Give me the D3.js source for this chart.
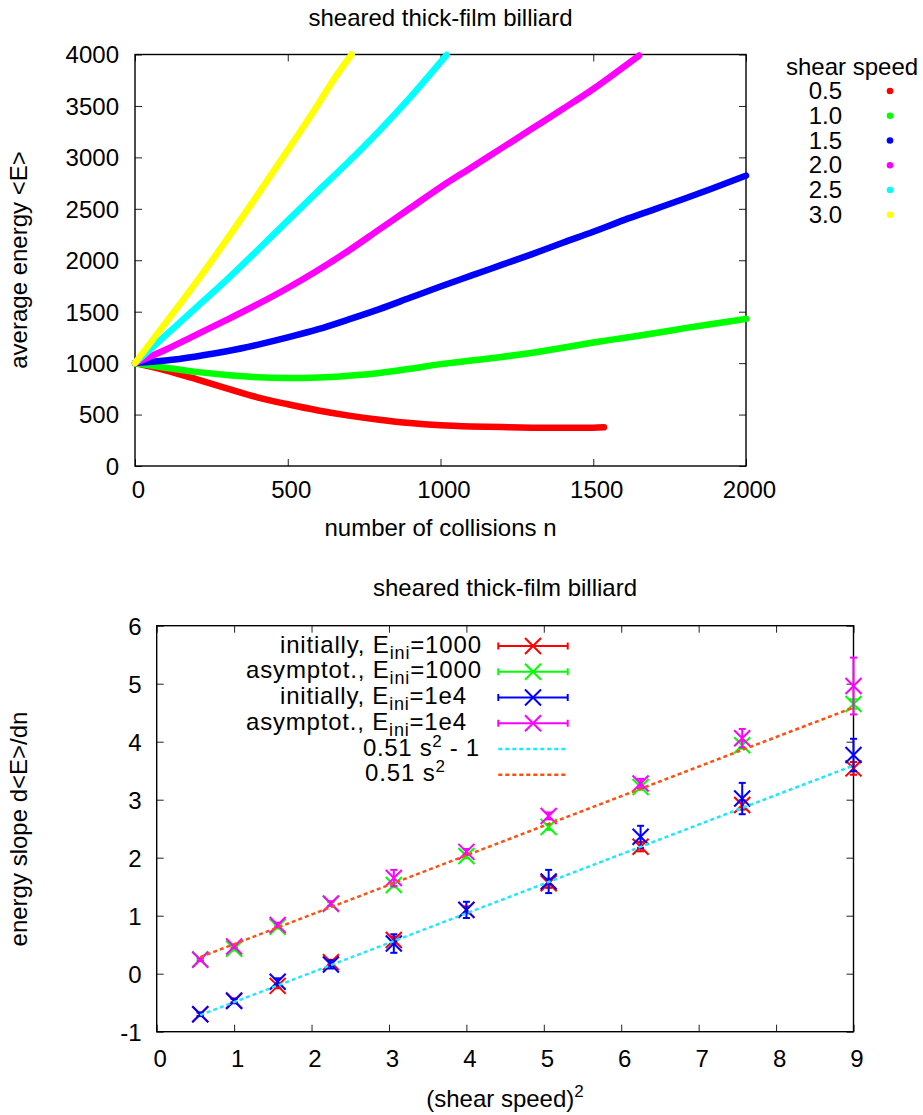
<!DOCTYPE html>
<html>
<head>
<meta charset="utf-8">
<script src="https://cdn.jsdelivr.net/npm/d3@7"></script>
<style>
  body { margin: 0; background: #fff; }
  svg { display: block; }
  text { font-family: "Liberation Sans", Arial, Helvetica, sans-serif; fill: #000; }
</style>
</head>
<body>
<svg id="chart" width="923" height="1115"></svg>
<script>
// ---------- top panel: average energy <E> versus number of collisions n ----------
const shearSpeedLabels = ["0.5", "1.0", "1.5", "2.0", "2.5", "3.0"];

// [n, <E>] samples for each shear speed
const energyS05 = [[0,1000],[100,930],[200,845],[300,755],[400,668],[500,600],[600,540],[700,490],[800,450],[900,418],[1000,397],[1100,385],[1200,378],[1300,373],[1400,371],[1500,373],[1535,376]];
const energyS10 = [[0,1000],[100,955],[200,915],[300,885],[400,863],[500,855],[600,860],[700,878],[800,905],[900,945],[1000,990],[1100,1025],[1200,1060],[1300,1100],[1400,1150],[1500,1200],[1600,1245],[1700,1290],[1800,1340],[1900,1385],[2000,1430]];
const energyS15 = [[0,1000],[100,1025],[200,1065],[300,1115],[400,1178],[500,1250],[600,1330],[700,1425],[800,1525],[900,1635],[1000,1745],[1100,1850],[1200,1955],[1300,2060],[1400,2170],[1500,2277],[1600,2390],[1700,2495],[1800,2600],[1900,2710],[2000,2822]];
const energyS20 = [[0,1000],[100,1130],[200,1275],[300,1420],[400,1570],[500,1730],[600,1905],[700,2095],[800,2300],[900,2505],[1000,2710],[1100,2900],[1200,3090],[1300,3280],[1400,3470],[1500,3665],[1600,3880],[1650,3990]];
const energyS25 = [[0,1000],[100,1270],[200,1540],[300,1810],[400,2095],[500,2385],[600,2675],[700,2960],[800,3260],[900,3580],[1000,3925],[1020,3995]];
const energyS30 = [[0,1000],[100,1390],[200,1785],[300,2200],[400,2630],[500,3070],[600,3520],[650,3755],[709,4000]];

const xTicksTop = [0, 500, 1000, 1500, 2000];
const yTicksTop = [0, 500, 1000, 1500, 2000, 2500, 3000, 3500, 4000];

// ---------- bottom panel: energy slope versus (shear speed)^2 ----------
const shearSpeeds = [0.75, 1.0, 1.25, 1.5, 1.75, 2.0, 2.25, 2.5, 2.75, 3.0];
const slopeInitE1000 = [-0.70, -0.46, -0.21, 0.20, 0.58, 1.10, 1.56, 2.19, 2.91, 3.54];
const errInitE1000   = [0.03, 0.03, 0.04, 0.04, 0.06, 0.06, 0.08, 0.08, 0.08, 0.11];
const slopeAsymE1000 = [0.25, 0.43, 0.81, 1.20, 1.53, 2.03, 2.53, 3.22, 3.94, 4.65];
const errAsymE1000   = [0.02, 0.03, 0.03, 0.03, 0.04, 0.04, 0.05, 0.05, 0.06, 0.08];
const slopeInitE1e4  = [-0.70, -0.47, -0.14, 0.16, 0.52, 1.10, 1.59, 2.36, 3.02, 3.77];
const errInitE1e4    = [0.03, 0.04, 0.06, 0.07, 0.16, 0.14, 0.20, 0.19, 0.27, 0.28];
const slopeAsymE1e4  = [0.24, 0.47, 0.84, 1.21, 1.65, 2.10, 2.72, 3.28, 4.06, 4.96];
const errAsymE1e4    = [0.02, 0.03, 0.04, 0.04, 0.14, 0.05, 0.06, 0.08, 0.16, 0.49];
const fitSlope = 0.51;      // d<E>/dn = 0.51 s^2 (+ offset)
const fitOffsets = [-1, 0];

const xTicksBottom = [0, 1, 2, 3, 4, 5, 6, 7, 8, 9];
const yTicksBottom = [-1, 0, 1, 2, 3, 4, 5, 6];

// ---------- styles ----------
const curveColors = ["#ff0000", "#00ff00", "#0000ff", "#ff00ff", "#00ffff", "#ffff00"];
const seriesColors = ["#ff0000", "#00ff00", "#0000ff", "#ff00ff"];
const fitColors = ["#1ee8ff", "#ff5010"];
const FS = 24, FS_SMALL = 17;

const svg = d3.select("#chart");

// ---------- scales ----------
const xTop = d3.scaleLinear().domain([0, 2000]).range([135, 746]);
const yTop = d3.scaleLinear().domain([0, 4000]).range([466, 54.5]);
const xBot = d3.scaleLinear().domain([0, 9]).range([156.7, 853.5]);
const yBot = d3.scaleLinear().domain([-1, 6]).range([1031.7, 625.7]);

// Framed plot box with inward ticks on all four sides
function drawFrame(x, y, xt, yt, xPad, yPad) {
  const [x0, x1] = x.range(), [y0, y1] = y.range();
  const g = svg.append("g");
  const plain = d => String(d);   // hyphen-minus, as in "-1"
  const style = sel => {
    sel.select(".domain").remove();
    sel.selectAll(".tick line").attr("stroke", "#222").attr("stroke-width", 1);
    sel.selectAll("text").attr("font-size", FS).attr("font-family", null).attr("fill", "#000");
  };
  g.append("g").attr("transform", `translate(0,${y0})`)
    .call(d3.axisBottom(x).tickValues(xt).tickSizeInner(-7).tickSizeOuter(0).tickPadding(xPad).tickFormat(plain))
    .call(style).selectAll("text").attr("dx", 3);
  g.append("g").attr("transform", `translate(0,${y1})`)
    .call(d3.axisTop(x).tickValues(xt).tickSizeInner(-7).tickSizeOuter(0).tickFormat(""))
    .call(style);
  g.append("g").attr("transform", `translate(${x0},0)`)
    .call(d3.axisLeft(y).tickValues(yt).tickSizeInner(-7).tickSizeOuter(0).tickPadding(yPad).tickFormat(plain))
    .call(style).selectAll("text").attr("dy", "0.35em");
  g.append("g").attr("transform", `translate(${x1},0)`)
    .call(d3.axisRight(y).tickValues(yt).tickSizeInner(-7).tickSizeOuter(0).tickFormat(""))
    .call(style);
  g.append("rect").attr("x", x0).attr("y", y1).attr("width", x1 - x0).attr("height", y0 - y1)
    .attr("fill", "none").attr("stroke", "#000").attr("stroke-width", 1.4);
}

// ===================== top panel =====================
svg.append("text").attr("x", 440.5).attr("y", 26).attr("text-anchor", "middle")
  .attr("font-size", FS).text("sheared thick-film billiard");

drawFrame(xTop, yTop, xTicksTop, yTicksTop, 15.3, 16);

svg.append("text").attr("transform", "translate(27,260) rotate(-90)")
  .attr("text-anchor", "middle").attr("font-size", FS).text("average energy <E>");
svg.append("text").attr("x", 440.5).attr("y", 536).attr("text-anchor", "middle")
  .attr("font-size", FS).text("number of collisions n");

const energyCurves = [energyS05, energyS10, energyS15, energyS20, energyS25, energyS30];
const energyLine = d3.line().x(d => xTop(d[0])).y(d => yTop(d[1])).curve(d3.curveMonotoneX);
svg.append("g").selectAll("path").data(energyCurves).join("path")
  .attr("d", energyLine)
  .attr("fill", "none")
  .attr("stroke", (d, i) => curveColors[i])
  .attr("stroke-width", 6.5)
  .attr("stroke-linecap", "round")
  .attr("stroke-linejoin", "round");

// legend of the top panel
svg.append("text").attr("x", 786).attr("y", 75).attr("font-size", FS).text("shear speed");
const topLegend = svg.append("g").selectAll("g").data(shearSpeedLabels).join("g")
  .attr("transform", (d, i) => `translate(0,${91 + i * 24.75})`);
topLegend.append("text").attr("x", 842).attr("y", 8).attr("text-anchor", "end")
  .attr("font-size", FS).text(d => d);
topLegend.append("circle").attr("cx", 890).attr("cy", 0).attr("r", 3.3)
  .attr("fill", (d, i) => curveColors[i]);

// ===================== bottom panel =====================
svg.append("text").attr("x", 505).attr("y", 596).attr("text-anchor", "middle")
  .attr("font-size", FS).text("sheared thick-film billiard");

drawFrame(xBot, yBot, xTicksBottom, yTicksBottom, 18, 15);

svg.append("text").attr("transform", "translate(27,829) rotate(-90)")
  .attr("text-anchor", "middle").attr("font-size", FS).text("energy slope d<E>/dn");
const xLab = svg.append("text").attr("x", 505).attr("y", 1107).attr("text-anchor", "middle")
  .attr("font-size", FS);
xLab.append("tspan").text("(shear speed)");
xLab.append("tspan").attr("dy", -10).attr("font-size", FS_SMALL).text("2");

const series = [
  [slopeInitE1000, errInitE1000],
  [slopeAsymE1000, errAsymE1000],
  [slopeInitE1e4, errInitE1e4],
  [slopeAsymE1e4, errAsymE1e4]
];
const M = 8, CAP = 3.5;
const crossPath = `M${-M},${-M}L${M},${M}M${-M},${M}L${M},${-M}`;

series.forEach(([vals, errs], si) => {
  const pts = shearSpeeds.map((s, i) => ({ x: s * s, y: vals[i], e: errs[i] }));
  const g = svg.append("g").attr("stroke", seriesColors[si]).attr("stroke-width", 2).attr("fill", "none");
  const p = g.selectAll("g").data(pts).join("g");
  p.append("line").attr("x1", d => xBot(d.x)).attr("x2", d => xBot(d.x))
    .attr("y1", d => yBot(d.y - d.e)).attr("y2", d => yBot(d.y + d.e));
  p.append("line").attr("x1", d => xBot(d.x) - CAP).attr("x2", d => xBot(d.x) + CAP)
    .attr("y1", d => yBot(d.y - d.e)).attr("y2", d => yBot(d.y - d.e));
  p.append("line").attr("x1", d => xBot(d.x) - CAP).attr("x2", d => xBot(d.x) + CAP)
    .attr("y1", d => yBot(d.y + d.e)).attr("y2", d => yBot(d.y + d.e));
  p.append("path").attr("transform", d => `translate(${xBot(d.x)},${yBot(d.y)})`).attr("d", crossPath);
});

// fitted lines 0.51 s^2 - 1 and 0.51 s^2 over the measured range
const s2Range = [shearSpeeds[0] ** 2, shearSpeeds[shearSpeeds.length - 1] ** 2];
fitOffsets.forEach((off, fi) => {
  svg.append("line")
    .attr("x1", xBot(s2Range[0])).attr("y1", yBot(fitSlope * s2Range[0] + off))
    .attr("x2", xBot(s2Range[1])).attr("y2", yBot(fitSlope * s2Range[1] + off))
    .attr("stroke", fitColors[fi]).attr("stroke-width", 2.5).attr("stroke-dasharray", "4,3");
});

// legend of the bottom panel
const legendRows = [
  { main: "initially, E", sub: "ini", tail: "=1000" },
  { main: "asymptot., E", sub: "ini", tail: "=1000" },
  { main: "initially, E", sub: "ini", tail: "=1e4" },
  { main: "asymptot., E", sub: "ini", tail: "=1e4" },
  { main: "0.51 s", sup: "2", tail: " - 1" },
  { main: "0.51 s", sup: "2", tail: "" }
];
const legendTextStart = [280, 246, 280, 246, 363, 365];
const legendTextWidth = [201, 235, 186, 220, 116, 80];
const legendY = i => 646 + i * 25.75;
const keyX0 = 498.3, keyX1 = 567.7, keyXm = 533;

legendRows.forEach((r, i) => {
  const t = svg.append("text").attr("x", legendTextStart[i]).attr("y", legendY(i) + 6.5)
    .attr("font-size", FS)
    .attr("textLength", legendTextWidth[i]).attr("lengthAdjust", "spacing");
  t.append("tspan").text(r.main);
  if (r.sub) {
    t.append("tspan").attr("dy", 6).attr("font-size", 18).text(r.sub);
    t.append("tspan").attr("dy", -6).attr("font-size", FS).text(r.tail);
  } else {
    t.append("tspan").attr("dy", -9).attr("font-size", FS_SMALL).text(r.sup);
    if (r.tail) t.append("tspan").attr("dy", 9).attr("font-size", FS).text(r.tail);
  }
  const y = legendY(i);
  if (i < 4) {
    const g = svg.append("g").attr("stroke", seriesColors[i]).attr("stroke-width", 2).attr("fill", "none");
    g.append("line").attr("x1", keyX0).attr("x2", keyX1).attr("y1", y).attr("y2", y);
    g.append("line").attr("x1", keyX0).attr("x2", keyX0).attr("y1", y - CAP).attr("y2", y + CAP);
    g.append("line").attr("x1", keyX1).attr("x2", keyX1).attr("y1", y - CAP).attr("y2", y + CAP);
    g.append("path").attr("transform", `translate(${keyXm},${y})`).attr("d", crossPath);
  } else {
    svg.append("line").attr("x1", keyX0).attr("x2", keyX1).attr("y1", y).attr("y2", y)
      .attr("stroke", fitColors[i - 4]).attr("stroke-width", 2.5).attr("stroke-dasharray", "4,3");
  }
});
</script>
</body>
</html>
